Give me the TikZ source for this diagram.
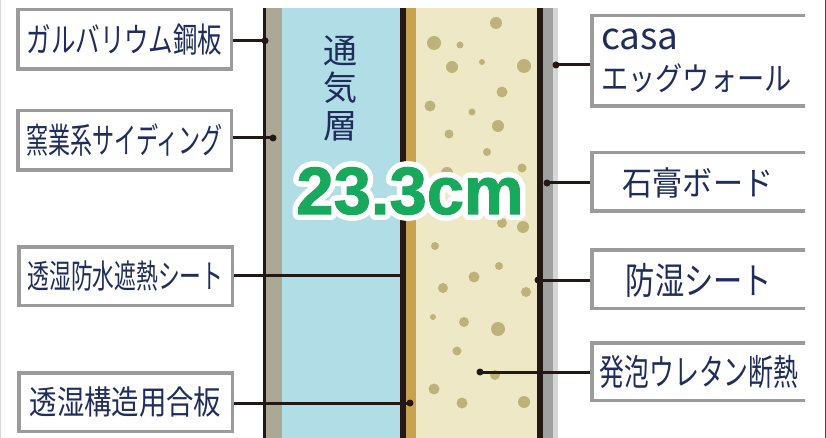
\documentclass[tikz,border=0pt]{standalone}
\usepackage{fontspec}
\newfontfamily\jp{Noto Sans CJK JP}
\newfontfamily\bignum{Liberation Sans}[BoldFeatures={FakeBold=1.5}]

\definecolor{ink}{HTML}{231815}
\definecolor{navy}{HTML}{1F2C5C}
\definecolor{boxgray}{HTML}{9B9B9B}
\definecolor{wallbeige}{HTML}{ABA995}
\definecolor{airblue}{HTML}{B1DEE6}
\definecolor{goldstrip}{HTML}{C9A24F}
\definecolor{foam}{HTML}{EFE8C6}
\definecolor{foamdot}{HTML}{BCB27A}
\definecolor{board}{HTML}{A0A0A0}
\definecolor{boardlight}{HTML}{D6D6D6}
\definecolor{numgreen}{HTML}{18A95C}

% label text: font size, horizontal squeeze, text
\newcommand\labtxt[3]{\fontsize{#1}{#1}\selectfont\scalebox{#2}[1]{#3}}

\begin{document}
\begin{tikzpicture}[x=1pt,y=-1pt,
  lbox/.style={draw=boxgray, line width=3.5pt, fill=white, inner sep=0pt,
    minimum width=213.5pt, minimum height=59.5pt, font=\jp, text=navy},
  rbox/.style={draw=boxgray, line width=3.5pt, fill=white, inner sep=0pt,
    minimum width=218.5pt},
  jptext/.style={font=\jp, text=navy, inner sep=0pt},
  lead/.style={draw=ink, line width=3pt},
  pin/.style={fill=ink},
  bignum/.style={font=\bignum\bfseries\fontsize{67}{67}\selectfont, inner sep=0pt}]

\useasboundingbox (0,0) rectangle (826,438);
\fill[white] (0,0) rectangle (826,438);

% page edges
\draw[boardlight, line width=1pt] (0.5,0) -- (0.5,438);
\draw[ink!80, line width=1pt] (825.5,0) -- (825.5,438);

% wall layers, outside to inside
\fill[ink]        (263,8) rectangle (266,438);
\fill[wallbeige]  (266,8) rectangle (282,438);
\fill[airblue]    (282,8) rectangle (400,438);
\fill[ink]        (400,8) rectangle (406,438);
\fill[goldstrip]  (406,8) rectangle (416,438);
\fill[foam]       (416,8) rectangle (537,438);
\fill[ink]        (537,8) rectangle (543,438);
\fill[board]      (543,8) rectangle (553,438);
\fill[boardlight] (553,8) rectangle (558,438);

% foam bubbles
\foreach \px/\py/\r in {496/23/6, 434/43/7, 460/45/3.5, 452/67/6, 482/62/3,
    524/66/7, 502/92/5.5, 430/106/5.5, 472/112/3.5, 498/126/6, 449/134/4.5,
    487/152/4, 522/168/4.5, 447/173/6, 502/223/5, 523/227/6, 435/246/4,
    499/266/4, 474/277/5.5, 443/288/5, 526/292/5, 433/317/3, 464/322/5,
    498/329/7, 457/351/4.5, 495/375/5, 434/389/5.5, 462/403/5.5, 524/402/6}
  \fill[foamdot] (\px,\py) circle[radius=\r pt];

% air layer caption
\node[jptext, align=center, font=\jp\fontsize{34}{37.5}\selectfont] (air) at (340,88) {通\\気\\層};

% left labels
\node[lbox] (b1) at (124.5,39.5) {\labtxt{34}{0.72}{ガルバリウム鋼板}};
\node[lbox] (b2) at (124.5,140.5) {\labtxt{35}{0.63}{窯業系サイディング}};
\node[lbox, minimum height=58.5pt] (b3) at (125.5,276) {\labtxt{33}{0.66}{透湿防水遮熱シート}};
\node[lbox, minimum height=58.5pt] (b4) at (125.5,402) {\labtxt{33}{0.83}{透湿構造用合板}};

% right label frames (open towards the right edge)
\begin{scope}
  \clip (0,0) rectangle (805,438);
  \node[rbox, minimum height=90.5pt] (r1) at (701,61) {};
  \node[rbox, minimum height=58.5pt] (r2) at (701,182) {};
  \node[rbox, minimum height=58.5pt] (r3) at (701,279) {};
  \node[rbox, minimum height=57.5pt] (r4) at (701,371.5) {};
\end{scope}

\node[jptext, anchor=base west, font=\jp\fontsize{37}{37}\selectfont] (t1a) at (601,50) {casa};
\node[jptext, anchor=base west] (t1b) at (601,91) {\labtxt{32}{0.85}{エッグウォール}};
\node[jptext] (t2) at (698,183) {\labtxt{33}{0.91}{石膏ボード}};
\node[jptext] (t3) at (699,280) {\labtxt{37}{0.79}{防湿シート}};
\node[jptext] (t4) at (699,372) {\labtxt{36}{0.69}{発泡ウレタン断熱}};

% leader lines
\coordinate (p1) at (265,40.7);
\coordinate (p2) at (273,138);
\coordinate (p3) at (403,275);
\coordinate (p4) at (410,403);
\coordinate (q1) at (556,65);
\coordinate (q2) at (547,183);
\coordinate (q3) at (538,280);
\coordinate (q4) at (480,372);

\draw[lead] (b1.east |- p1) -- (p1);
\draw[lead] (b2.east |- p2) -- (p2);
\draw[lead] (b3.east |- p3) -- (p3);
\draw[lead] (b4.east |- p4) -- (p4);
\draw[lead] (r1.west |- q1) -- (q1);
\draw[lead] (r2.west |- q2) -- (q2);
\draw[lead] (r3.west |- q3) -- (q3);
\draw[lead] (r4.west |- q4) -- (q4);

\foreach \p in {p1,p2,p4,q1,q2,q3,q4}
  \fill[pin] (\p) circle[radius=3.5pt];

% total thickness, green with a white halo
\foreach \a in {0,20,...,340} {
  \node[bignum, text=white, xshift={5.5pt*cos(\a)}, yshift={5.5pt*sin(\a)}] (halo\a) at (410,191) {23.3cm};
}
\node[bignum, text=numgreen] (total) at (410,191) {23.3cm};

\end{tikzpicture}
\end{document}
